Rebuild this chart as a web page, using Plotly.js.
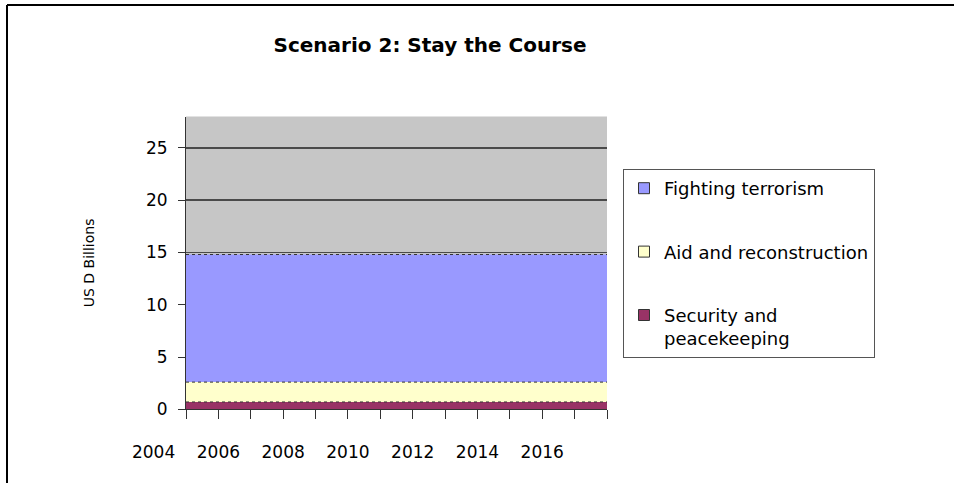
<!DOCTYPE html>
<html>
<head>
<meta charset="utf-8">
<script src="https://cdn.plot.ly/plotly-3.0.1.min.js"></script>
<style>html,body{margin:0;padding:0;background:#fff;}#chart{width:954px;height:483px;}</style>
</head>
<body>
<div id="chart"></div>
<script>
// ---- data ----
const years = [2005, 2006, 2007, 2008, 2009, 2010, 2011, 2012, 2013, 2014, 2015, 2016, 2017, 2018];
const security = [0.7, 0.7, 0.7, 0.7, 0.7, 0.7, 0.7, 0.7, 0.7, 0.7, 0.7, 0.7, 0.7, 0.7];
const aid = [1.9, 1.9, 1.9, 1.9, 1.9, 1.9, 1.9, 1.9, 1.9, 1.9, 1.9, 1.9, 1.9, 1.9];
const terrorism = [12.2, 12.2, 12.2, 12.2, 12.2, 12.2, 12.2, 12.2, 12.2, 12.2, 12.2, 12.2, 12.2, 12.2];
const seriesNames = ['Security and<br>peacekeeping', 'Aid and reconstruction', 'Fighting terrorism'];
const seriesColors = ['#993366', '#FFFFCC', '#9999FF'];
const tickYears = [2004, 2006, 2008, 2010, 2012, 2014, 2016];
const tickLabels = ['2004', '2006', '2008', '2010', '2012', '2014', '2016'];
const yTicks = [0, 5, 10, 15, 20, 25];

const FONT = 'DejaVu Sans, Arial, sans-serif';
const seriesValues = [security, aid, terrorism];

const traces = [];
// stacked areas
for (let i = 0; i < 3; i++) {
  traces.push({
    type: 'scatter', mode: 'lines', x: years, y: seriesValues[i],
    stackgroup: 'one', fillcolor: seriesColors[i],
    line: {color: '#333333', width: 1, dash: 'dot'},
    showlegend: false, hoverinfo: 'skip', xaxis: 'x', yaxis: 'y'
  });
}
// legend entries (square swatches), no visible marks
for (let i = 2; i >= 0; i--) {
  traces.push({
    type: 'scatter', mode: 'markers', x: [years[0]], y: [null],
    name: seriesNames[i], legendgroup: 'g' + i,
    marker: {symbol: 'square', size: 11, color: seriesColors[i], line: {color: '#333333', width: 1}},
    xaxis: 'x2', yaxis: 'y2', hoverinfo: 'skip'
  });
}

const W = 954, H = 483;
const px = v => v / W, py = v => 1 - v / H;

const layout = {
  width: W, height: H,
  margin: {l: 0, r: 0, t: 0, b: 0},
  paper_bgcolor: '#ffffff', plot_bgcolor: '#ffffff',
  font: {family: FONT, color: '#000000'},
  title: {
    text: 'Scenario 2: Stay the Course',
    font: {family: FONT, size: 20, weight: 'bold', color: '#000000'},
    x: px(430), xanchor: 'center', xref: 'paper',
    y: py(45), yanchor: 'middle', yref: 'paper'
  },
  xaxis: {
    domain: [px(186), px(607)], range: [2005, 2018], anchor: 'y',
    tickmode: 'linear', tick0: 2005, dtick: 1,
    ticks: 'outside', ticklen: 9, tickcolor: '#333333', tickwidth: 1,
    showticklabels: false, showline: true, linecolor: '#333333', linewidth: 1,
    showgrid: false, zeroline: false, fixedrange: true
  },
  yaxis: {
    domain: [1 - 409.3 / H, 1 - 116.5 / H], range: [0, 28], anchor: 'x',
    tickmode: 'array', tickvals: yTicks, ticktext: yTicks.map(String),
    ticks: 'outside', ticklen: 7, tickcolor: '#333333', tickwidth: 1,
    ticklabelstandoff: 7,
    tickfont: {family: FONT, size: 17, color: '#000000'},
    showline: true, linecolor: '#333333', linewidth: 1,
    showgrid: true, gridcolor: '#4a4a4a', gridwidth: 1.5, zeroline: false,
    title: {text: 'US D Billions', font: {family: FONT, size: 14, color: '#000000'}, standoff: 48},
    fixedrange: true
  },
  xaxis2: {
    domain: [px(186 - 1.5 * 32.385), px(607)], range: [2003.5, 2018], anchor: 'y2',
    tickmode: 'array', tickvals: tickYears, ticktext: tickLabels,
    ticks: '', showline: false, showgrid: false, zeroline: false,
    tickfont: {family: FONT, size: 17, color: '#000000'}, fixedrange: true
  },
  yaxis2: {
    domain: [1 - 440 / H, 1 - 439.5 / H], range: [0, 1], anchor: 'x2',
    visible: false, fixedrange: true
  },
  legend: {
    x: px(623), xanchor: 'left', xref: 'paper',
    y: py(169), yanchor: 'top', yref: 'paper',
    bgcolor: '#ffffff', bordercolor: '#555555', borderwidth: 1,
    font: {family: FONT, size: 18, color: '#000000'},
    traceorder: 'grouped', tracegroupgap: 37, valign: 'top'
  },
  shapes: [
    {type: 'rect', xref: 'x domain', yref: 'y domain', x0: 0, x1: 1, y0: 0, y1: 1,
     fillcolor: '#c6c6c6', line: {width: 0}, layer: 'below'},
    {type: 'line', xref: 'paper', yref: 'paper', x0: px(7), x1: 1, y0: py(5), y1: py(5),
     line: {color: '#000000', width: 2}},
    {type: 'line', xref: 'paper', yref: 'paper', x0: px(7), x1: px(7), y0: py(5), y1: 0,
     line: {color: '#000000', width: 2}}
  ],
  showlegend: true,
  hovermode: false
};

Plotly.newPlot('chart', traces, layout, {displayModeBar: false, staticPlot: true});
</script>
</body>
</html>
